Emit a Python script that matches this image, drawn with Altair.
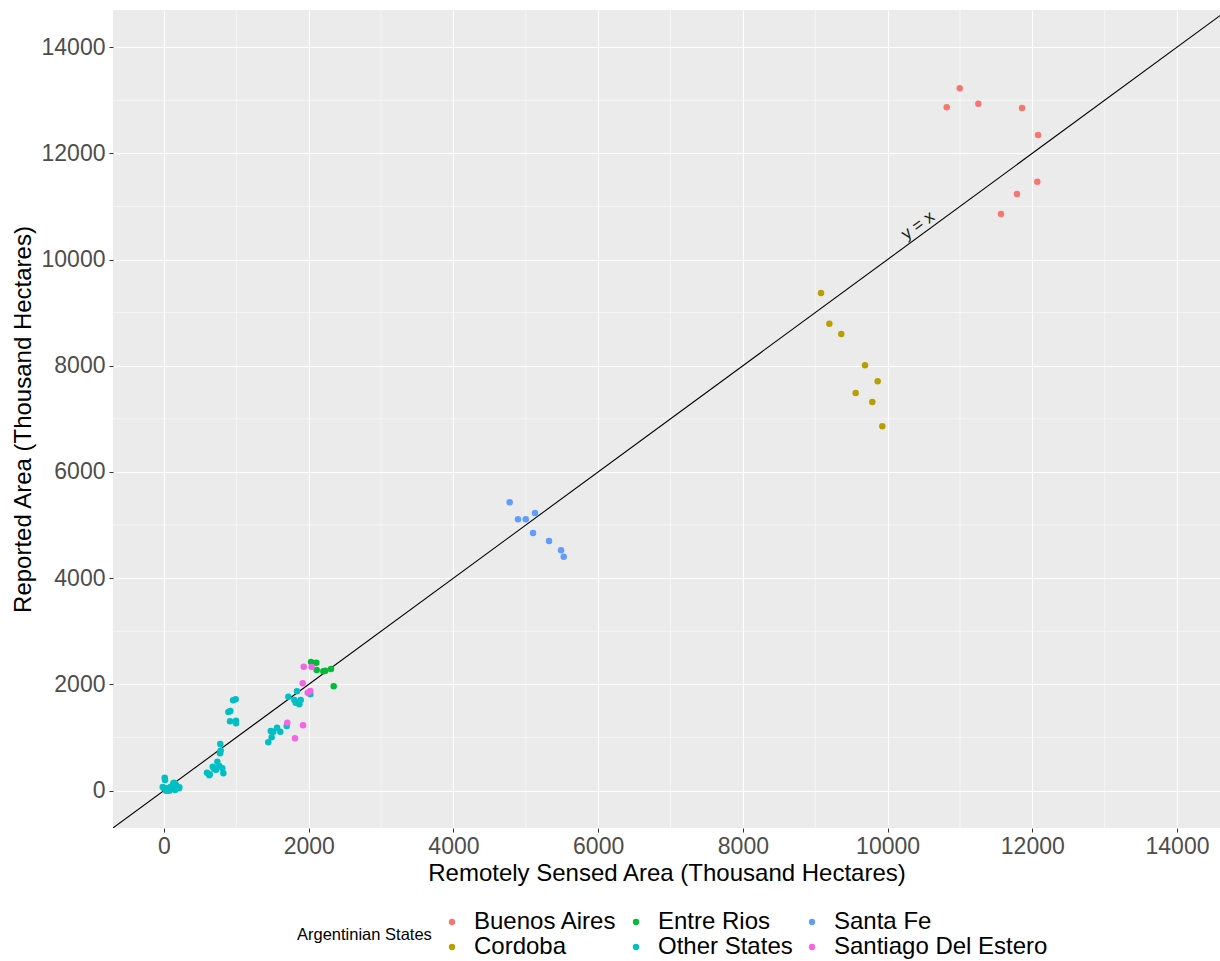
import altair as alt
import pandas as pd

# ---- data (thousand hectares) ----
ba_x = [10817, 10997, 11254, 11858, 12079, 12069, 11788, 11567]
ba_y = [12866, 13224, 12934, 12853, 12345, 11465, 11234, 10857]

cor_x = [9080, 9195, 9360, 9688, 9863, 9559, 9789, 9927]
cor_y = [9369, 8791, 8597, 8008, 7706, 7486, 7316, 6859]

sf_x = [4777, 4892, 4999, 5127, 5100, 5321, 5487, 5524]
sf_y = [5427, 5107, 5107, 5226, 4849, 4699, 4523, 4403]

er_x = [2032, 2105, 2110, 2202, 2229, 2308, 2345]
er_y = [2420, 2407, 2269, 2245, 2256, 2288, 1962]

sde_x = [1931, 2041, 1917, 1986, 2022, 1704, 1921, 1810]
sde_y = [2331, 2326, 2019, 1842, 1874, 1277, 1228, 983]

oth_x = [10, 14, -18, 37, 93, 129, 166, 207, 152, 73, 28, 0, 138, 211,
         778, 783, 774, 737, 764, 691, 673, 806, 594, 632, 820, 719, 626, 700,
         955, 990, 889, 917, 912, 995, 995,
         2022, 1838, 1718, 1801, 1889, 1820, 1870, 1696, 1562, 1475, 1510, 1607, 1488, 1441]
oth_y = [241, 200, 66, 41, 72, 136, 104, 41, 9, -4, -4, 41, 147, 60,
         876, 750, 700, 542, 461, 418, 448, 418, 335, 305, 324, 392, 286, 399,
         1700, 1720, 1478, 1497, 1303, 1315, 1265,
         1812, 1868, 1767, 1704, 1704, 1654, 1623, 1215, 1183, 1121, 1107, 1107, 1002, 908]

states = ["Buenos Aires", "Entre Rios", "Santa Fe", "Cordoba", "Other States", "Santiago Del Estero"]
colors = ["#F8766D", "#00BA38", "#619CFF", "#B79F00", "#00BFC4", "#F564E3"]

major_ticks = [0, 2000, 4000, 6000, 8000, 10000, 12000, 14000]
minor_ticks = [1000, 3000, 5000, 7000, 9000, 11000, 13000]

x_domain = [-705, 14594]
y_domain = [-706, 14699]

ab_line = [-2000, 16000]
label_x = [10420]
label_y = [10640]
label_text = ["y = x"]

# ---- tables ----
rows = []
for name, xs, ys in [("Buenos Aires", ba_x, ba_y), ("Cordoba", cor_x, cor_y),
                     ("Santa Fe", sf_x, sf_y), ("Entre Rios", er_x, er_y),
                     ("Other States", oth_x, oth_y), ("Santiago Del Estero", sde_x, sde_y)]:
    for a, b in zip(xs, ys):
        rows.append({"x": a, "y": b, "state": name})
df = pd.DataFrame(rows)

FONT = "Liberation Sans"

xs = alt.Scale(domain=x_domain, nice=False, zero=False)
ys = alt.Scale(domain=y_domain, nice=False, zero=False)

x_axis = alt.Axis(values=major_ticks, title="Remotely Sensed Area (Thousand Hectares)",
                  format="d")
y_axis = alt.Axis(values=major_ticks, title="Reported Area (Thousand Hectares)",
                  format="d")

minor_df = pd.DataFrame({"v": minor_ticks})
minor_x = alt.Chart(minor_df).mark_rule(color="white", strokeWidth=0.55).encode(
    x=alt.X("v:Q", scale=xs, axis=x_axis))
minor_y = alt.Chart(minor_df).mark_rule(color="white", strokeWidth=0.55).encode(
    y=alt.Y("v:Q", scale=ys, axis=y_axis))

line_df = pd.DataFrame({"a": ab_line, "b": ab_line})
abline = alt.Chart(line_df).mark_line(color="black", strokeWidth=1.1, clip=True).encode(
    x=alt.X("a:Q", scale=xs, axis=x_axis),
    y=alt.Y("b:Q", scale=ys, axis=y_axis))

lab_df = pd.DataFrame({"x": label_x, "y": label_y, "t": label_text})
lab = alt.Chart(lab_df).mark_text(angle=324, fontSize=17, font=FONT, color="#1a1a1a").encode(
    x=alt.X("x:Q", scale=xs, axis=x_axis),
    y=alt.Y("y:Q", scale=ys, axis=y_axis),
    text="t:N")

pts = alt.Chart(df).mark_circle(size=42, opacity=1).encode(
    x=alt.X("x:Q", scale=xs, axis=x_axis),
    y=alt.Y("y:Q", scale=ys, axis=y_axis),
    color=alt.Color("state:N", scale=alt.Scale(domain=states, range=colors),
                    legend=alt.Legend(title="Argentinian States", orient="none",
                                      legendX=184, legendY=900, direction="horizontal",
                                      columns=3, titleOrient="left", titleAnchor="middle",
                                      titleBaseline="middle",
                                      titleFontSize=16.5, titleFontWeight="normal",
                                      titleColor="black", titleFont=FONT, titlePadding=8,
                                      labelFontSize=24, labelFont=FONT, labelColor="black",
                                      labelLimit=0,
                                      symbolSize=40, symbolType="circle",
                                      labelOffset=10, columnPadding=7, rowPadding=1,
                                      symbolStrokeWidth=0)))

chart = alt.layer(minor_x, minor_y, abline, pts, lab).properties(
    width=1107, height=818,
    padding={"left": 113, "top": 10, "right": 0, "bottom": 133},
    autosize=alt.AutoSizeParams(type="none"),
).configure_view(fill="#EBEBEB", stroke=None).configure_axis(
    grid=True, gridColor="white", gridWidth=1.1, domain=False,
    tickColor="#333333", tickSize=4, tickWidth=1,
    labelColor="#4D4D4D", labelFontSize=23, labelFont=FONT,
    titleFontSize=24, titleFont=FONT, titleFontWeight="normal", titleColor="black",
).configure_axisX(labelPadding=3, titlePadding=3).configure_axisY(labelPadding=4, titlePadding=6)

chart.save("out.html", embed_options={"renderer": "svg", "actions": False})
